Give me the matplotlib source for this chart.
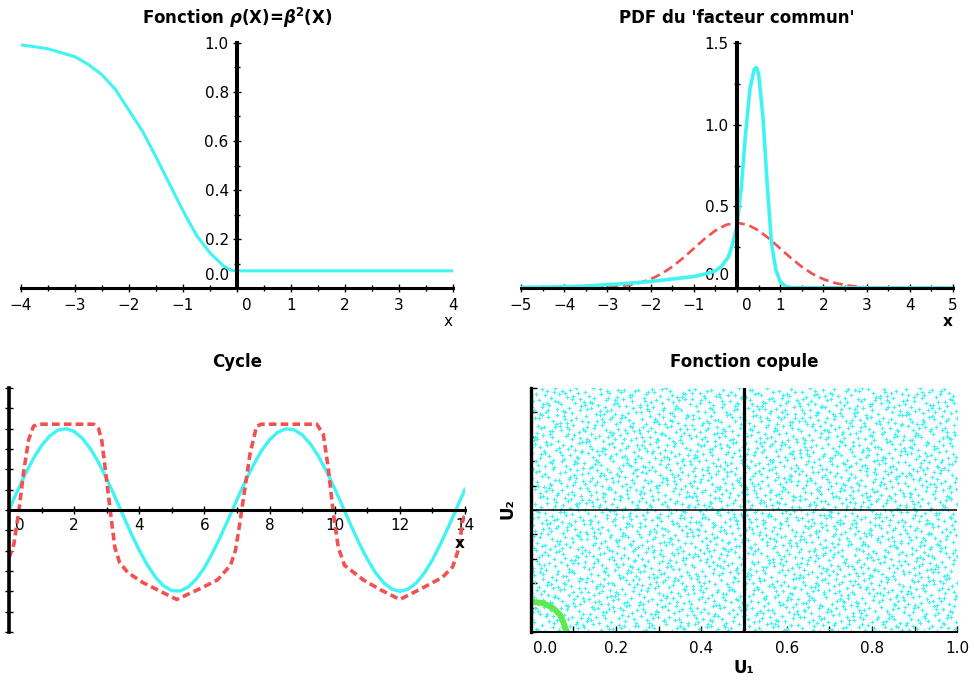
import numpy as np
import matplotlib.pyplot as plt
from matplotlib.transforms import ScaledTranslation

plt.rcParams['font.family'] = 'DejaVu Sans'
plt.rcParams['lines.scale_dashes'] = False

CYAN = '#40F4F4'
RED = '#F45050'
GREEN = '#5EEA4A'

# Fonction rho(X) = beta^2(X)
rho_x = [-4, -3.75, -3.5, -3, -2.75, -2.5, -2.25, -2, -1.75, -1.5, -1.25,
         -1, -0.75, -0.5, -0.25, -0.1, 0, 4]
rho_y = [0.992, 0.985, 0.976, 0.944, 0.912, 0.87, 0.81, 0.725, 0.64, 0.535,
         0.425, 0.315, 0.215, 0.143, 0.09, 0.072, 0.07, 0.07]

# PDF du facteur commun (cyan) and the normal density (red, dashed)
fc_x = [-5, -4, -3.5, -3, -2.5, -2, -1.5, -1, -0.75, -0.5, -0.35, -0.2, -0.1,
        0, 0.1, 0.2, 0.3, 0.4, 0.45, 0.5, 0.6, 0.7, 0.8, 0.9, 1.0, 1.1, 1.2,
        1.3, 5]
fc_y = [0.004, 0.008, 0.012, 0.02, 0.029, 0.04, 0.055, 0.07, 0.085, 0.105,
        0.135, 0.19, 0.27, 0.38, 0.62, 0.95, 1.22, 1.34, 1.35, 1.31, 1.05,
        0.63, 0.27, 0.11, 0.04, 0.015, 0.005, 0.002, 0.0]
norm_x = np.arange(-5, 5.01, 0.25)
norm_y = [0.0, 0.0, 0.0, 0.0, 0.0, 0.0, 0.001, 0.002, 0.004, 0.009, 0.018,
          0.032, 0.054, 0.086, 0.130, 0.183, 0.242, 0.301, 0.352, 0.387,
          0.399,
          0.387, 0.352, 0.301, 0.242, 0.183, 0.130, 0.086, 0.054, 0.032,
          0.018, 0.009, 0.004, 0.002, 0.001, 0.0, 0.0, 0.0, 0.0, 0.0, 0.0]

# Cycle
cyc_x = np.arange(0, 14.01, 0.25)
cyc_y = [0, 0.227, 0.442, 0.634, 0.793, 0.911, 0.981, 1.0, 0.966, 0.882,
         0.752, 0.584, 0.384, 0.164, -0.064, -0.289, -0.496, -0.679, -0.827,
         -0.935, -0.991, -0.996, -0.947, -0.849, -0.708, -0.526, -0.320,
         -0.100, 0.128, 0.348, 0.548, 0.728, 0.864, 0.956, 0.998, 0.987,
         0.925, 0.815, 0.662, 0.475, 0.262, 0.037, -0.191, -0.408, -0.603,
         -0.769, -0.894, -0.973, -1.0, -0.975, -0.898, -0.777, -0.613,
         -0.416, -0.200, 0.027, 0.254]
sat_x = [0.0, 0.15, 0.3, 0.45, 0.6, 0.75, 0.9, 2.6, 2.75, 2.85, 2.95, 3.05,
         3.15, 3.25, 3.4, 3.65, 4.1, 4.65, 5.15, 5.85, 6.4, 6.8, 6.95, 7.05,
         7.2, 7.4, 7.6, 7.75, 9.45, 9.65, 9.8, 9.96, 10.11, 10.3, 10.88,
         11.4, 12.0, 12.62, 13.3, 13.62, 13.82, 13.92, 14.0]
sat_y = [-0.59, -0.42, -0.02, 0.47, 0.86, 1.03, 1.055, 1.055, 1.0, 0.85,
         0.52, 0.19, -0.14, -0.46, -0.65, -0.77, -0.89, -1.0, -1.1, -0.97,
         -0.86, -0.68, -0.5, -0.26, 0.15, 0.69, 1.03, 1.055, 1.055, 0.93,
         0.52, -0.05, -0.46, -0.68, -0.86, -0.98, -1.1, -0.975, -0.83, -0.7,
         -0.46, -0.15, -0.05]

# Fonction copule
arc_u1 = [0.0, 0.03, 0.053, 0.069, 0.076, 0.083, 0.085]
arc_u2 = [0.125, 0.119, 0.098, 0.071, 0.043, 0.009, 0.0]
n_sample = 3000  # the cloud is too dense to read point by point: spread evenly


def van_der_corput(n, base):
    # evenly spread sequence in [0, 1)
    out = np.zeros(n)
    for i in range(n):
        k, f, v = i + 1, 1.0, 0.0
        while k > 0:
            f /= base
            v += f * (k % base)
            k //= base
        out[i] = v
    return out


def shift(label, fig, dx, dy):
    # move one tick label by (dx, dy) pixels
    label.set_transform(label.get_transform()
                        + ScaledTranslation(dx / 100, dy / 100, fig.dpi_scale_trans))


def cross_axes(ax, lw_v, lw_h):
    for s in ['top', 'right']:
        ax.spines[s].set_visible(False)
    ax.spines['left'].set_position(('data', 0))
    ax.spines['bottom'].set_position(('data', 0))
    ax.spines['left'].set_linewidth(lw_v)
    ax.spines['bottom'].set_linewidth(lw_h)
    ax.patch.set_visible(False)
    ax.tick_params(which='both', direction='inout', width=1, labelsize=11)
    ax.tick_params(which='major', length=6)
    ax.tick_params(which='minor', length=4)


fig = plt.figure(figsize=(9.74, 6.81), dpi=100)

### Fonction rho ###
ax1 = fig.add_axes([0.02156, 0.57709, 0.44353, 0.35977])
ax1.plot(rho_x, rho_y, color=CYAN, lw=2.2)
ax1.set_xlim(-4, 4)
ax1.set_ylim(0, 1)
cross_axes(ax1, 2.9, 2.2)
ax1.set_xticks(np.arange(-4, 5, 1))
ax1.set_xticks(np.arange(-4, 4.1, 0.5), minor=True)
ax1.set_yticks(np.arange(0, 1.01, 0.2))
ax1.set_yticks(np.arange(0, 1.01, 0.1), minor=True)
ax1.set_xticklabels(['\u22124', '\u22123', '\u22122', '\u22121', '0', '1', '2', '3', '4'])
ax1.set_yticklabels(['0.0', '0.2', '0.4', '0.6', '0.8', '1.0'])
ax1.tick_params(axis='x', pad=4)
ax1.tick_params(axis='y', pad=3)
shift(ax1.get_xticklabels()[4], fig, 10, 0)
shift(ax1.get_yticklabels()[0], fig, 0, 14)
fig.text(237 / 974, 1 - 18 / 681, r'Fonction $\boldsymbol{\rho}$(X)=$\boldsymbol{\beta}^{\mathbf{2}}$(X)',
         ha='center', va='center', fontsize=12, fontweight='bold')
fig.text(448 / 974, 1 - 322 / 681, 'x', ha='center', va='center', fontsize=11)

### PDF ###
ax2 = fig.add_axes([0.53491, 0.57709, 0.44353, 0.35977])
ax2.plot(norm_x, norm_y, color=RED, lw=1.9, dashes=(7, 3.5))
ax2.plot(fc_x, fc_y, color=CYAN, lw=2.6)
ax2.set_xlim(-5, 5)
ax2.set_ylim(0, 1.5)
cross_axes(ax2, 2.9, 2.2)
ax2.set_xticks(np.arange(-5, 6, 1))
ax2.set_xticks(np.arange(-5, 5.1, 0.5), minor=True)
ax2.set_yticks([0, 0.5, 1.0, 1.5])
ax2.set_yticks(np.arange(0, 1.51, 0.25), minor=True)
ax2.set_xticklabels(['\u22125', '\u22124', '\u22123', '\u22122', '\u22121', '0',
                     '1', '2', '3', '4', '5'])
ax2.set_yticklabels(['0.0', '0.5', '1.0', '1.5'])
ax2.tick_params(axis='x', pad=4)
ax2.tick_params(axis='y', pad=3)
shift(ax2.get_xticklabels()[5], fig, 10, 0)
shift(ax2.get_yticklabels()[0], fig, 0, 14)
fig.text(737 / 974, 1 - 18 / 681, "PDF du 'facteur commun'",
         ha='center', va='center', fontsize=12, fontweight='bold')
fig.text(948 / 974, 1 - 322 / 681, 'x', ha='center', va='center',
         fontsize=11, fontweight='bold')

### Cycle ###
ax3 = fig.add_axes([0.00924, 0.07195, 0.46817, 0.35830])
ax3.plot(cyc_x, cyc_y, color=CYAN, lw=2.4)
ax3.plot(sat_x, sat_y, color=RED, lw=2.6, dashes=(5.5, 3))
ax3.set_xlim(0, 14)
ax3.set_ylim(-1.5, 1.5)
cross_axes(ax3, 2.6, 2.2)
ax3.set_xticks(np.arange(0, 15, 2))
ax3.set_xticks(np.arange(0, 14.1, 1), minor=True)
ax3.set_yticks(np.arange(-1.5, 1.51, 0.25))
ax3.set_yticklabels([])
ax3.tick_params(axis='x', pad=3)
shift(ax3.get_xticklabels()[0], fig, 11, 0)
fig.text(237 / 974, 1 - 362 / 681, 'Cycle', ha='center', va='center',
         fontsize=12, fontweight='bold')
fig.text(460 / 974, 1 - 543 / 681, 'x', ha='center', va='center',
         fontsize=11, fontweight='bold')

### Fonction copule ###
ax4 = fig.add_axes([0.54487, 0.07151, 0.43799, 0.35918])
u1 = van_der_corput(n_sample, 2)
u2 = van_der_corput(n_sample, 3)
ax4.plot(u1, u2, '+', color=CYAN, ms=2.4, mew=0.8)
ax4.plot(arc_u1, arc_u2, color=GREEN, lw=4.2, solid_capstyle='round')
ax4.axvline(0.5, color='black', lw=2.3)
ax4.axhline(0.5, color='black', lw=1.1)
ax4.set_xlim(0, 1)
ax4.set_ylim(0, 1)
for s in ['top', 'right']:
    ax4.spines[s].set_visible(False)
ax4.spines['left'].set_linewidth(2.4)
ax4.spines['bottom'].set_linewidth(1.4)
ax4.tick_params(which='both', direction='in', width=1, labelsize=11)
ax4.tick_params(which='major', length=4)
ax4.tick_params(which='minor', length=4)
ax4.set_xticks(np.arange(0, 1.01, 0.2))
ax4.set_xticks(np.arange(0, 1.01, 0.1), minor=True)
ax4.set_xticklabels(['0.0', '0.2', '0.4', '0.6', '0.8', '1.0'])
ax4.set_yticks(np.arange(0, 1.01, 0.1))
ax4.set_yticklabels([])
ax4.tick_params(axis='x', pad=6)
shift(ax4.get_xticklabels()[0], fig, 14, 0)
fig.text(744 / 974, 1 - 362 / 681, 'Fonction copule', ha='center',
         va='center', fontsize=12, fontweight='bold')
fig.text(744 / 974, 1 - 668 / 681, 'U\u2081', ha='center', va='center',
         fontsize=12, fontweight='bold')
fig.text(508 / 974, 1 - 509 / 681, 'U\u2082', ha='center', va='center',
         fontsize=12, fontweight='bold', rotation=90)

fig.savefig('out.png', dpi=100)
